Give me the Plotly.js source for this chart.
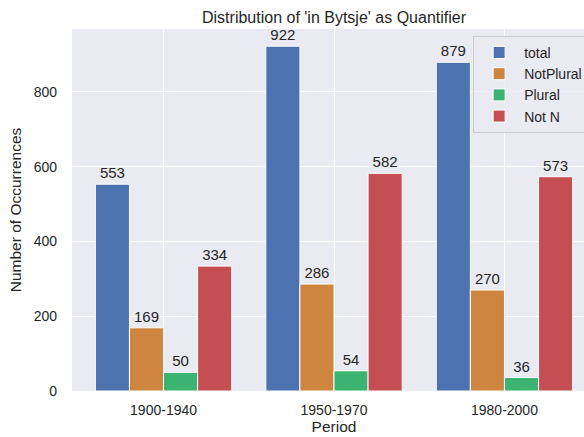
<!DOCTYPE html>
<html>
<head>
<meta charset="utf-8">
<script src="https://cdn.plot.ly/plotly-3.0.1.min.js"></script>
<style>
html,body{margin:0;padding:0;overflow:hidden;background:#fff;}
#chart{width:620px;height:437px;}
</style>
</head>
<body>
<div id="chart"></div>
<script>
const periods = ['1900-1940', '1950-1970', '1980-2000'];
const seriesNames = ['total', 'NotPlural', 'Plural', 'Not N'];
const total = [553, 922, 879];
const notPlural = [169, 286, 270];
const plural = [50, 54, 36];
const notN = [334, 582, 573];
const colors = ['#4C72B0', '#CD853F', '#3CB371', '#C44E52'];

const values = [total, notPlural, plural, notN];
const FONT = 'Liberation Sans, Arial, sans-serif';
const TXT = '#262626';

const traces = values.map((v, i) => ({
  type: 'bar',
  name: seriesNames[i],
  x: periods,
  y: v,
  text: v.map(String),
  textposition: 'outside',
  cliponaxis: false,
  textfont: {family: FONT, size: 15, color: TXT},
  marker: {color: colors[i], line: {color: '#ffffff', width: 1}},
  hoverinfo: 'x+y+name'
}));

const layout = {
  width: 620,
  height: 437,
  margin: {l: 72, r: 24, t: 29, b: 46},
  paper_bgcolor: '#ffffff',
  plot_bgcolor: '#EAEAF2',
  barmode: 'group',
  bargap: 0.2,
  bargroupgap: 0,
  font: {family: FONT, color: TXT, size: 13.5},
  title: {
    text: "Distribution of 'in Bytsje' as Quantifier",
    font: {family: FONT, size: 16, color: TXT},
    x: 0.5, xref: 'paper', xanchor: 'center',
    y: 1, yref: 'paper', yanchor: 'bottom', pad: {b: 6}
  },
  xaxis: {
    type: 'category',
    range: [-0.537, 2.537],
    showgrid: true,
    gridcolor: '#ffffff',
    gridwidth: 1,
    zeroline: false,
    showline: false,
    ticks: '',
    ticklabelstandoff: 9,
    tickfont: {family: FONT, size: 14, color: TXT},
    title: {text: 'Period', font: {family: FONT, size: 15.5, color: TXT}, standoff: 4},
    automargin: false
  },
  yaxis: {
    range: [0, 968],
    dtick: 200,
    tick0: 0,
    showgrid: true,
    gridcolor: '#ffffff',
    gridwidth: 1,
    zeroline: false,
    showline: false,
    ticks: '',
    ticklabelstandoff: 14,
    tickfont: {family: FONT, size: 14, color: TXT},
    title: {text: 'Number of Occurrences', font: {family: FONT, size: 15.5, color: TXT}, standoff: 8},
    automargin: false
  },
  legend: {
    x: 0.985, xanchor: 'right', xref: 'paper',
    y: 0.981, yanchor: 'top', yref: 'paper',
    bgcolor: 'rgba(234,234,242,0.8)',
    bordercolor: '#cccccc',
    borderwidth: 1,
    font: {family: FONT, size: 14, color: TXT},
    itemwidth: 40,
    tracegroupgap: 0
  },
  showlegend: true
};

Plotly.newPlot('chart', traces, layout, {displayModeBar: false, staticPlot: true});
</script>
</body>
</html>
